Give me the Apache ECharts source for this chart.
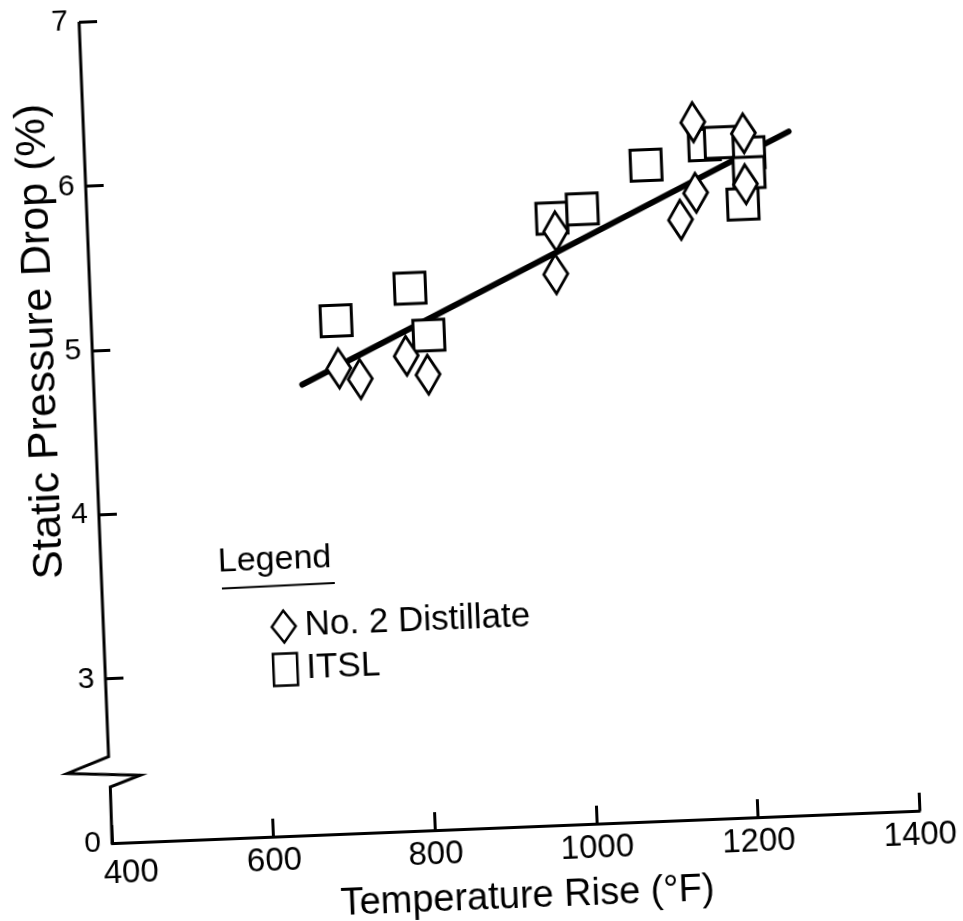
<!DOCTYPE html>
<html><head><meta charset="utf-8">
<script src="https://cdn.jsdelivr.net/npm/echarts@6/dist/echarts.min.js"></script>
<style>
html,body{margin:0;padding:0;width:963px;height:921px;overflow:hidden;background:#fff;}
#chart{position:absolute;left:-40px;top:-40px;width:1043px;height:1001px;transform:rotate(-2.3deg);transform-origin:50% 50%;}
</style></head><body><div id="chart"></div>
<script>
// Axis ticks
const xTicks = [400, 600, 800, 1000, 1200, 1400];
const yTicks = [2, 3, 4, 5, 6, 7];          // 2 sits below the axis break
const yTickLabels = ['0', '3', '4', '5', '6', '7'];

// No. 2 Distillate  [temperature rise °F, static pressure drop %]
const distillate = [
  [704, 4.83], [730, 4.76], [788, 4.89], [814, 4.77],
  [979, 5.61], [977, 5.35], [1134, 5.65], [1154, 5.81],
  [1154, 6.24], [1216, 6.16], [1216, 5.85]
];
// ITSL
const itsl = [
  [703, 5.12], [796, 5.30], [817, 5.01], [975, 5.69],
  [1013, 5.74], [1094, 5.99], [1167, 6.10], [1187, 6.11],
  [1222, 6.04], [1221, 5.92], [1212, 5.73]
];
// Fitted line end points
const fitLine = [[658, 4.74], [1272, 6.16]];
// Axis break (values on the y scale where the zigzag sits)
const breakY = [2.527, 2.434, 2.406, 2.341];

const FONT = 'Liberation Sans';
const chart = echarts.init(document.getElementById('chart'), null, {renderer: 'canvas'});

chart.setOption({
  animation: false,
  backgroundColor: '#fff',
  grid: {left: 137, right: 98, top: 46, bottom: 133, containLabel: false},
  xAxis: {
    type: 'value', min: xTicks[0], max: xTicks[xTicks.length - 1], interval: 200,
    name: 'Temperature Rise (°F)', nameLocation: 'middle', nameGap: 40,
    nameTextStyle: {fontFamily: FONT, fontSize: 38, color: '#000', padding: [0, 0, 0, 18]},
    axisLine: {show: true, lineStyle: {color: '#000', width: 3}},
    axisTick: {show: true, inside: true, length: 18, lineStyle: {color: '#000', width: 3}},
    axisLabel: {
      fontFamily: FONT, fontSize: 33, color: '#000', margin: 8,
      formatter: v => v === xTicks[0] ? '{a|' + v + '}' : String(v),
      rich: {a: {fontFamily: FONT, fontSize: 33, color: '#000', padding: [6, 0, 0, 36]}}
    },
    splitLine: {show: false}
  },
  yAxis: {
    type: 'value', min: yTicks[0], max: yTicks[yTicks.length - 1], interval: 1,
    axisLine: {show: false},
    axisTick: {show: true, inside: true, length: 18, lineStyle: {color: '#000', width: 3}},
    axisLabel: {
      fontFamily: FONT, fontSize: 30, color: '#000', margin: 11,
      formatter: v => { const i = yTicks.indexOf(v); return i >= 0 ? yTickLabels[i] : ''; }
    },
    splitLine: {show: false}
  },
  legend: {
    orient: 'vertical', left: 299, top: 636, itemWidth: 24, itemHeight: 32, itemGap: 8,
    data: ['No. 2 Distillate', 'ITSL'],
    textStyle: {fontFamily: FONT, fontSize: 35, color: '#000', padding: [0, 0, 0, 4]},
    itemStyle: {color: '#fff', borderColor: '#000', borderWidth: 2.5}
  },
  series: [
    {
      type: 'line', data: fitLine, symbol: 'none', silent: true, z: 2,
      lineStyle: {color: '#000', width: 6, cap: 'round'}
    },
    {
      name: 'ITSL', type: 'scatter', data: itsl, symbol: 'rect', symbolSize: 31, z: 3,
      itemStyle: {color: '#fff', borderColor: '#000', borderWidth: 3, opacity: 1}
    },
    {
      name: 'No. 2 Distillate', type: 'scatter', data: distillate, symbol: 'diamond',
      symbolSize: [24, 39], z: 4,
      itemStyle: {color: '#fff', borderColor: '#000', borderWidth: 3, opacity: 1}
    }
  ]
});

// Y axis line with the zigzag break, placed through the axis scale
const px = v => chart.convertToPixel({gridIndex: 0}, [xTicks[0], v]);
const ax = px(7)[0];
const pts = [
  [ax, px(7)[1]],
  [ax, px(breakY[0])[1]],
  [ax - 42, px(breakY[1])[1]],
  [ax + 31, px(breakY[2])[1]],
  [ax + 0.5, px(breakY[3])[1]],
  [ax, px(yTicks[0])[1]]
];

chart.setOption({
  graphic: [
    {type: 'polyline', shape: {points: pts}, style: {stroke: '#000', lineWidth: 3, fill: null, lineJoin: 'miter'}, z: 10},
    {type: 'text', x: 86, y: 364, rotation: Math.PI / 2,
     style: {text: 'Static Pressure Drop (%)', font: '43px "Liberation Sans"', fill: '#000', align: 'center', verticalAlign: 'middle'}},
    {type: 'text', x: 254, y: 592,
     style: {text: 'Legend', font: '34px "Liberation Sans"', fill: '#000', align: 'left', verticalAlign: 'middle'}},
    {type: 'line', shape: {x1: 257, y1: 618, x2: 370, y2: 617}, style: {stroke: '#000', lineWidth: 2}}
  ]
});
</script>
</body></html>
